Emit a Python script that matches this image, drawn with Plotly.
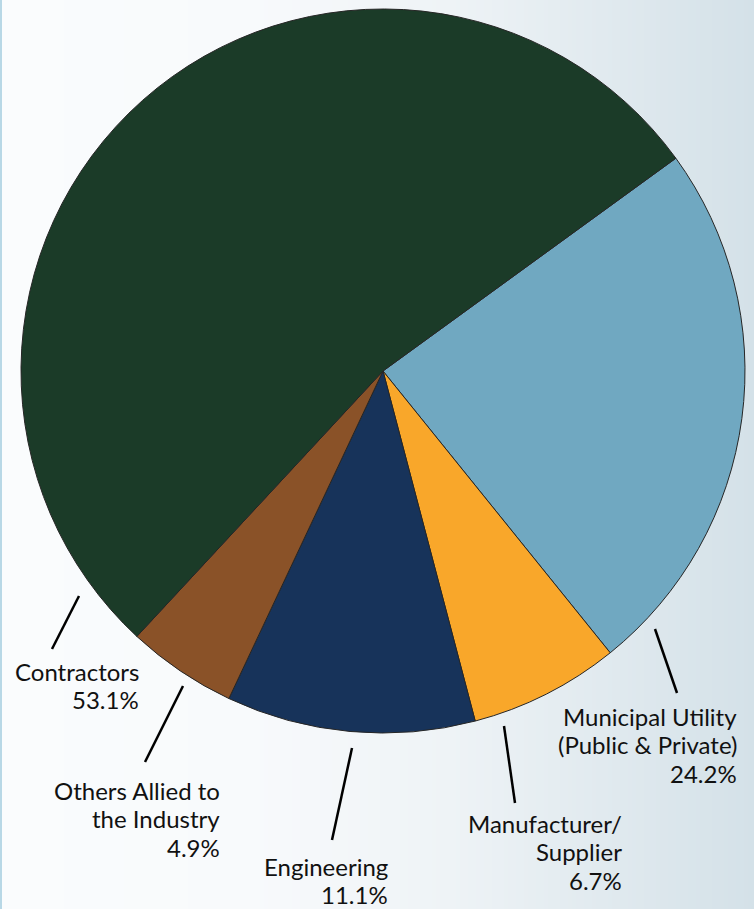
import plotly.graph_objects as go

W, H = 754, 909

# Data (clockwise from the Contractors/Municipal boundary)
categories = ["Municipal Utility (Public & Private)", "Manufacturer/Supplier",
              "Engineering", "Others Allied to the Industry", "Contractors"]
values = [24.2, 6.7, 11.1, 4.9, 53.1]
colors = ["#70a8c1", "#f9a72a", "#17335a", "#8a5228", "#1b3b28"]

# label lines as shown beside the pie
label_lines = [
    ["Municipal Utility", "(Public & Private)", "24.2%"],
    ["Manufacturer/", "Supplier", "6.7%"],
    ["Engineering", "11.1%"],
    ["Others Allied to", "the Industry", "4.9%"],
    ["Contractors", "53.1%"],
]

fig = go.Figure()
fig.add_trace(go.Pie(
    labels=categories, values=values, sort=False, direction="clockwise",
    rotation=54, textinfo="none", hoverinfo="label+percent",
    marker=dict(colors=colors, line=dict(color="#262626", width=1)),
    domain=dict(x=[21 / W, 745 / W], y=[1 - 733 / H, 1 - 9 / H]),
    showlegend=False,
))

def px(x):
    return x / W

def py(y):
    return 1 - y / H

shapes = []
# background horizontal gradient
def lerp(a, b, t):
    return tuple(round(a[i] + (b[i] - a[i]) * t) for i in range(3))

stops = [(0, (250, 252, 253)), (250, (248, 250, 252)), (450, (238, 243, 246)), (754, (212, 225, 232))]
step = 4
for x0 in range(0, W, step):
    xc = x0 + step / 2
    for (a, ca), (b, cb) in zip(stops[:-1], stops[1:]):
        if a <= xc <= b:
            c = lerp(ca, cb, (xc - a) / (b - a))
            break
    shapes.append(dict(type="rect", xref="paper", yref="paper", layer="below",
                       x0=px(x0), x1=px(min(x0 + step + 1, W)), y0=0, y1=1,
                       fillcolor="rgb(%d,%d,%d)" % c, line=dict(width=0)))
shapes.append(dict(type="rect", xref="paper", yref="paper", layer="below",
                   x0=0, x1=px(2), y0=0, y1=1, fillcolor="#b8d8e6", line=dict(width=0)))

# leader lines (pixel positions), same order as label_lines
leaders = [((655, 629), (677, 693)), ((504, 726), (515, 803)), ((352, 748), (332, 840)),
           ((183, 686), (145, 762)), ((79, 596), (52, 649))]
for (x0, y0), (x1, y1) in leaders:
    shapes.append(dict(type="line", xref="paper", yref="paper",
                       x0=px(x0), y0=py(y0), x1=px(x1), y1=py(y1),
                       line=dict(color="black", width=2.5)))

# right edge x and first baseline y of each label block
label_anchor = [(738, 724), (623, 831), (389, 874), (221, 798), (140, 679)]
FS = 24
LINE = 28.8

annotations = []
for lines, (x, yb) in zip(label_lines, label_anchor):
    for i, t in enumerate(lines):
        base = yb + i * LINE
        annotations.append(dict(text=t, x=px(x), y=py(base - 0.33 * FS), xref="paper", yref="paper",
                                xanchor="right", yanchor="middle", align="right",
                                showarrow=False, borderpad=0,
                                font=dict(family="Lato", size=FS, color="#111111")))

fig.update_layout(width=W, height=H, margin=dict(l=0, r=0, t=0, b=0),
                  paper_bgcolor="white", shapes=shapes, annotations=annotations)

fig.write_html("out.html")
